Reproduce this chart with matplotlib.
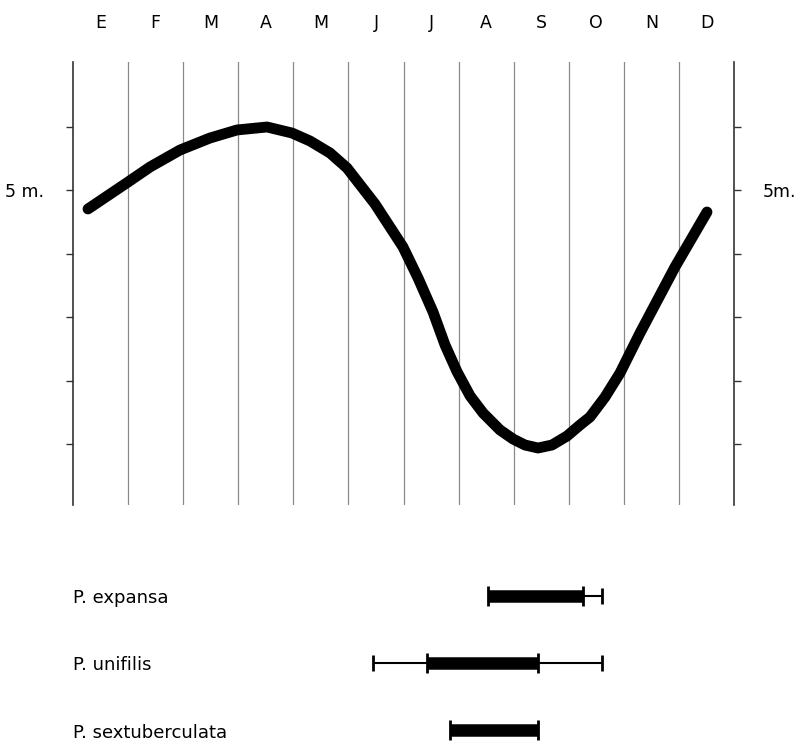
import numpy as np
import matplotlib.pyplot as plt

# month initials (Spanish: Enero ... Diciembre)
months = ['E', 'F', 'M', 'A', 'M', 'J', 'J', 'A', 'S', 'O', 'N', 'D']

# water level curve, x in months from 1 Jan, y in metres
level_x = [0.272, 0.999, 1.398, 1.943, 2.487, 2.977, 3.522, 3.976, 4.303,
           4.666, 4.975, 5.483, 5.991, 6.264, 6.536, 6.754, 6.972, 7.208,
           7.444, 7.752, 7.988, 8.206, 8.442, 8.696, 8.969, 9.205, 9.386,
           9.659, 9.931, 10.294, 10.929, 11.510]
level_y = [4.707, 5.132, 5.369, 5.637, 5.826, 5.953, 6.000, 5.905, 5.779,
           5.590, 5.353, 4.785, 4.107, 3.618, 3.082, 2.562, 2.140, 1.760,
           1.489, 1.221, 1.079, 0.984, 0.937, 0.984, 1.126, 1.300, 1.426,
           1.741, 2.120, 2.751, 3.792, 4.659]

# nesting periods per species (months from 1 Jan)
species = ['P. expansa', 'P. unifilis', 'P. sextuberculata']
main_start = [7.53, 6.43, 6.84]
main_end = [9.26, 8.44, 8.44]
ext_start = [None, 5.45, None]
ext_end = [9.60, 9.60, None]

fig = plt.figure(figsize=(8.02, 7.45), dpi=100)

ax = fig.add_axes([73/802, 1-505/745, 661/802, 443/745])
ax.set_xlim(0, 12)
ax.set_ylim(0.038, 7.025)

# month boundaries
for m in range(1, 12):
    ax.axvline(m, color='#8a8a8a', lw=0.9, zorder=1)

ax.plot(level_x, level_y, color='black', lw=7.8,
        solid_capstyle='round', solid_joinstyle='round', zorder=3)

for side in ['top', 'bottom']:
    ax.spines[side].set_visible(False)
ax.spines['left'].set_color('#333333')
ax.spines['right'].set_color('#333333')
ax.spines['left'].set_linewidth(1.2)
ax.spines['right'].set_linewidth(1.2)

ax.xaxis.tick_top()
ax.set_xticks(np.arange(12) + 0.5, months)
ax.tick_params(axis='x', length=0, pad=21.5, labelsize=12.5)

ticks = [1, 2, 3, 4, 5, 6]
ax.set_yticks(ticks, ['5 m.' if t == 5 else '' for t in ticks])
ax.tick_params(axis='y', direction='out', length=5, width=1,
               color='#333333', pad=16, labelsize=12.5)

axr = ax.twinx()
axr.set_ylim(ax.get_ylim())
axr.set_yticks(ticks, ['5m.' if t == 5 else '' for t in ticks])
axr.tick_params(axis='y', direction='out', length=5, width=1,
                color='#333333', pad=16, labelsize=12.5)
for s in axr.spines.values():
    s.set_visible(False)

# species periods
ax2 = fig.add_axes([73/802, 0, 661/802, 1-560/745])
ax2.set_xlim(0, 12)
ax2.set_ylim(2.215, -0.526)
ax2.axis('off')

for i, name in enumerate(species):
    ax2.text(0, i + 0.03, name, ha='left', va='center', fontsize=13)
    if ext_start[i] is not None:
        ax2.hlines(i, ext_start[i], main_start[i], color='black', lw=1.5)
        ax2.plot(ext_start[i], i, marker='|', ms=11, mew=2, color='black')
    if ext_end[i] is not None:
        ax2.hlines(i, main_end[i], ext_end[i], color='black', lw=1.5)
        ax2.plot(ext_end[i], i, marker='|', ms=11, mew=2, color='black')
    ax2.hlines(i, main_start[i], main_end[i], color='black', lw=9)
    ax2.plot([main_start[i], main_end[i]], [i, i], ls='none', marker='|',
             ms=15, mew=2, color='black')

fig.savefig('out.png', dpi=100)
